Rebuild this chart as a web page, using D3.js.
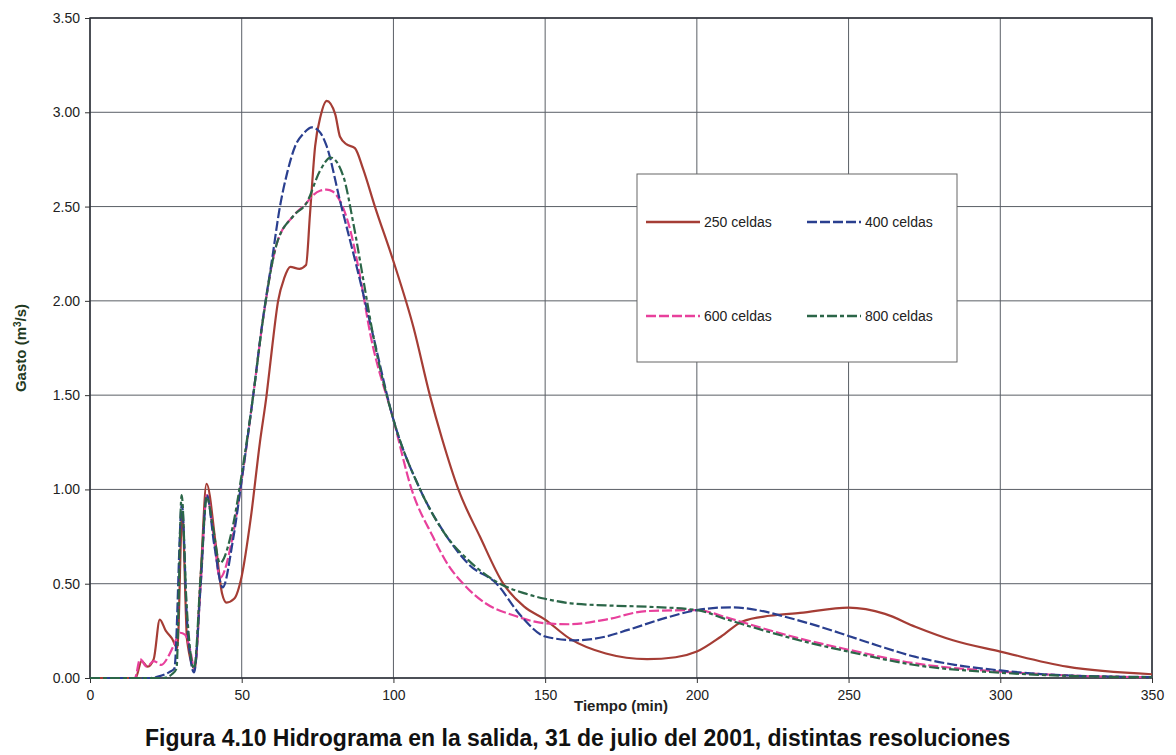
<!DOCTYPE html>
<html>
<head>
<meta charset="utf-8">
<script src="https://cdn.jsdelivr.net/npm/d3@7"></script>
<style>
  body { margin: 0; background: #fff; }
  svg { display: block; font-family: Arial, "Liberation Sans", sans-serif; }
</style>
</head>
<body>
<svg id="chart" width="1176" height="755"></svg>
<script>
// hidrograma, 4 resoluciones
var xTicks = [0, 50, 100, 150, 200, 250, 300, 350];
var yTicks = [0, 0.5, 1, 1.5, 2, 2.5, 3, 3.5];

var t250 = [0, 15, 17, 19, 21, 23, 25, 27, 28.8, 30.4, 32, 34.5, 36.5, 38.4, 41.5, 43.5, 45, 47.5, 50, 53, 56, 58.2, 60, 62, 64, 66, 69, 71.2, 72.5, 74.2, 76, 78, 80.8, 82.4, 84.6, 87.3, 90, 93.9, 100, 106.6, 112, 116, 121.4, 128.5, 136.2, 143, 150, 158, 170, 183.6, 193, 200, 208, 215, 224, 234, 250, 262, 272, 284.4, 300, 322, 350];
var q250 = [0, 0, 0.09, 0.06, 0.1, 0.31, 0.25, 0.21, 0.16, 0.88, 0.2, 0.05, 0.55, 1.03, 0.7, 0.45, 0.40, 0.42, 0.54, 0.85, 1.25, 1.5, 1.75, 2.0, 2.12, 2.18, 2.17, 2.19, 2.46, 2.82, 2.98, 3.06, 2.99, 2.87, 2.83, 2.81, 2.70, 2.50, 2.21, 1.86, 1.5, 1.27, 1.0, 0.75, 0.5, 0.38, 0.31, 0.21, 0.13, 0.10, 0.11, 0.14, 0.22, 0.30, 0.33, 0.345, 0.373, 0.34, 0.272, 0.20, 0.14, 0.06, 0.02];

var t400 = [0, 20, 23, 26, 27.8, 30.3, 32, 34.3, 36.5, 38.5, 41, 43.7, 47, 50, 53.8, 56.6, 60, 62.6, 65, 67.6, 70.5, 73.1, 75.5, 78, 82.4, 87.9, 93.4, 100, 108.8, 117.6, 125, 134, 142, 150, 160, 170, 177.3, 190, 200, 211.3, 220, 229, 240, 250, 260, 271.8, 285, 300, 320, 350];
var q400 = [0, 0, 0.01, 0.03, 0.05, 0.92, 0.3, 0.03, 0.5, 0.97, 0.7, 0.48, 0.72, 1.05, 1.5, 1.86, 2.22, 2.5, 2.68, 2.82, 2.89, 2.92, 2.9, 2.82, 2.53, 2.18, 1.81, 1.37, 1.0, 0.75, 0.6, 0.5, 0.33, 0.22, 0.20, 0.22, 0.255, 0.32, 0.36, 0.375, 0.36, 0.325, 0.275, 0.223, 0.17, 0.113, 0.07, 0.04, 0.015, 0.005];

var t600 = [0, 14.8, 16.5, 18.7, 21, 23.5, 26, 27.5, 29.7, 31.3, 33, 34.4, 36.5, 38.5, 41, 42.8, 47, 50, 53.8, 57, 61.5, 67, 71.4, 73.5, 76, 78, 80, 82.4, 85.7, 89, 92.3, 100, 106, 113, 118, 123, 130, 140, 150, 158, 170, 183.6, 200, 210, 221.4, 235, 250, 271.8, 300, 325, 350];
var q600 = [0, 0, 0.10, 0.06, 0.09, 0.07, 0.12, 0.17, 0.24, 0.23, 0.15, 0.05, 0.5, 0.97, 0.72, 0.53, 0.75, 1.05, 1.5, 1.9, 2.3, 2.45, 2.52, 2.56, 2.585, 2.59, 2.58, 2.53, 2.38, 2.13, 1.83, 1.37, 1.0, 0.75, 0.6, 0.5, 0.4, 0.33, 0.29, 0.285, 0.31, 0.355, 0.36, 0.32, 0.265, 0.205, 0.15, 0.078, 0.034, 0.012, 0.004];

var t800 = [0, 24, 27, 28.5, 30.2, 31.8, 33, 34.3, 36.5, 38.5, 40.5, 42.8, 47, 50, 53.8, 57, 61.5, 67, 71.4, 75.8, 79.3, 83.5, 86.8, 90.1, 93.4, 100, 108.8, 117.6, 125, 135.1, 143, 150, 158.4, 170, 183.6, 200, 210, 221.4, 235, 250, 271.8, 300, 325, 350];
var q800 = [0, 0, 0.02, 0.05, 0.97, 0.4, 0.15, 0.05, 0.55, 0.96, 0.8, 0.61, 0.8, 1.08, 1.5, 1.9, 2.3, 2.45, 2.52, 2.69, 2.76, 2.66, 2.41, 2.11, 1.81, 1.37, 1.0, 0.75, 0.62, 0.5, 0.45, 0.42, 0.396, 0.385, 0.378, 0.36, 0.31, 0.255, 0.195, 0.14, 0.069, 0.028, 0.01, 0.004];

var series = [
  { name: "250 celdas", t: t250, q: q250, color: "#a53d35", dash: null },
  { name: "600 celdas", t: t600, q: q600, color: "#e8409c", dash: "10,3" },
  { name: "400 celdas", t: t400, q: q400, color: "#2a3f8f", dash: "10,3" },
  { name: "800 celdas", t: t800, q: q800, color: "#2b6648", dash: "10,3,4,3" }
];

var margin = { left: 90, top: 18, right: 24, bottom: 77 };
var width = 1176 - margin.left - margin.right;
var height = 755 - margin.top - margin.bottom;

var svg = d3.select("#chart");
var g = svg.append("g").attr("transform", "translate(" + margin.left + "," + margin.top + ")");

var x = d3.scaleLinear().domain([0, 350]).range([0, width]);
var y = d3.scaleLinear().domain([0, 3.5]).range([height, 0]);

// grid
g.selectAll(".gx").data(xTicks).enter().append("line")
  .attr("x1", d => x(d)).attr("x2", d => x(d))
  .attr("y1", 0).attr("y2", height)
  .attr("stroke", "#5a5f66").attr("stroke-width", 1);
g.selectAll(".gy").data(yTicks).enter().append("line")
  .attr("x1", 0).attr("x2", width)
  .attr("y1", d => y(d)).attr("y2", d => y(d))
  .attr("stroke", "#5a5f66").attr("stroke-width", 1);

var xAxis = g.append("g").attr("transform", "translate(0," + height + ")")
  .call(d3.axisBottom(x).tickValues(xTicks).tickSize(5).tickPadding(7).tickFormat(d3.format("d")));
var yAxis = g.append("g")
  .call(d3.axisLeft(y).tickValues(yTicks).tickSize(5).tickPadding(5).tickFormat(d3.format(".2f")));
[xAxis, yAxis].forEach(function (a) {
  a.select(".domain").remove();
  a.selectAll("line").attr("stroke", "#333");
  a.selectAll("text").attr("fill", "#222").style("font-size", "14px")
    .style("font-family", "Arial, 'Liberation Sans', sans-serif");
});

// plot frame
g.append("rect").attr("width", width).attr("height", height)
  .attr("fill", "none").attr("stroke", "#2d3038").attr("stroke-width", 1.5);

var line = d3.line().curve(d3.curveMonotoneX);

series.forEach(function (s) {
  var pts = s.t.map((t, i) => [x(t), y(s.q[i])]);
  g.append("path").attr("d", line(pts))
    .attr("fill", "none").attr("stroke", s.color).attr("stroke-width", 2.2)
    .attr("stroke-dasharray", s.dash);
});

// legend
var lg = svg.append("g");
lg.append("rect").attr("x", 637).attr("y", 174).attr("width", 320).attr("height", 188)
  .attr("fill", "#fff").attr("stroke", "#666").attr("stroke-width", 1);
var legOrder = [series[0], series[2], series[1], series[3]];
var legPos = [[646, 222], [807, 222], [646, 316], [807, 316]];
legOrder.forEach(function (s, i) {
  var p = legPos[i];
  lg.append("line").attr("x1", p[0]).attr("x2", p[0] + 54).attr("y1", p[1]).attr("y2", p[1])
    .attr("stroke", s.color).attr("stroke-width", 2.5).attr("stroke-dasharray", s.dash);
  lg.append("text").attr("x", p[0] + 58).attr("y", p[1] + 5)
    .attr("fill", "#222").style("font-size", "14px").text(s.name);
});

// labels
svg.append("text").attr("transform", "translate(26," + (margin.top + height / 2) + ") rotate(-90)")
  .attr("text-anchor", "middle").attr("fill", "#1f3a22")
  .style("font-size", "15px").style("font-weight", "bold")
  .html('Gasto (m<tspan dy="-5" font-size="10px">3</tspan><tspan dy="5">/s)</tspan>');

svg.append("text").attr("x", margin.left + width / 2).attr("y", 711)
  .attr("text-anchor", "middle").attr("fill", "#222")
  .style("font-size", "15px").style("font-weight", "bold").text("Tiempo (min)");

svg.append("text").attr("x", 145).attr("y", 746)
  .attr("fill", "#111").style("font-size", "23px").style("font-weight", "bold")
  .text("Figura 4.10 Hidrograma en la salida, 31 de julio del 2001, distintas resoluciones");
</script>
</body>
</html>
